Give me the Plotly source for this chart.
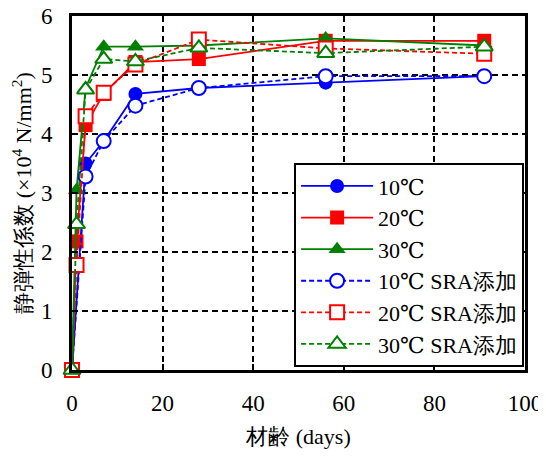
import plotly.graph_objects as go

days_all = [0, 1, 3, 7, 14, 28, 56, 91]
days_10 = [0, 3, 7, 14, 28, 56, 91]

e10 = [0, 3.5, 3.88, 4.68, 4.78, 4.87, 4.98]
e20 = [0, 2.18, 4.15, 4.68, 5.22, 5.27, 5.58, 5.58]
e30 = [0, 3.05, 4.78, 5.48, 5.48, 5.5, 5.62, 5.5]
e10s = [0, 3.28, 3.88, 4.48, 4.78, 4.98, 4.98]
e20s = [0, 1.78, 4.3, 4.7, 5.18, 5.6, 5.45, 5.36]
e30s = [0, 2.47, 4.75, 5.27, 5.23, 5.46, 5.37, 5.48]

names = ["10℃", "20℃", "30℃", "10℃ SRA添加", "20℃ SRA添加", "30℃ SRA添加"]
xs = [days_10, days_all, days_all, days_10, days_all, days_all]
ys = [e10, e20, e30, e10s, e20s, e30s]
colors = ["#0000ff", "#ff0000", "#008000", "#0000ff", "#ff0000", "#008000"]
symbols = ["circle", "square", "triangle-up", "circle-open", "square-open", "triangle-up-open"]
dashes = ["solid", "solid", "solid", "dash", "dash", "dash"]

FONT = "Times New Roman, Liberation Serif, DejaVu Serif, serif"

fig = go.Figure()
for n, x, y, c, s, d in zip(names, xs, ys, colors, symbols, dashes):
    is_open = "open" in s
    fig.add_trace(go.Scatter(
        x=x, y=y, name=n, mode="lines+markers", cliponaxis=False,
        line=dict(color=c, width=1.8, dash="5px,3px" if d == "dash" else "solid"),
        marker=dict(symbol=s.replace("-open", ""), size=14 if "triangle" not in s else 15,
                    color="white" if is_open else c,
                    line=dict(color=c, width=2 if is_open else 0)),
    ))

axis_common = dict(
    showline=True, linecolor="black", linewidth=3, mirror=True,
    ticks="inside", ticklen=6, tickwidth=2, tickcolor="black",
    showgrid=True, gridcolor="black", gridwidth=2, griddash="6px,4px",
    zeroline=False, automargin=False, ticklabeloverflow="allow",
    tickfont=dict(family=FONT, size=23, color="black"),
)

fig.update_layout(
    width=546, height=457,
    margin=dict(l=64, r=29, t=8, b=95),
    paper_bgcolor="white", plot_bgcolor="white",
    font=dict(family=FONT, color="black"),
    xaxis=dict(range=[0, 100], dtick=20, ticklabelstandoff=10, **axis_common,
               title=dict(text="材齢 (days)", font=dict(family=FONT, size=22))),
    yaxis=dict(range=[0, 6], dtick=1, ticklabelstandoff=12, **axis_common,
               title=dict(text="静弾性係数 (×10<sup>4</sup> N/mm<sup>2</sup>)",
                          font=dict(family=FONT, size=22))),
    legend=dict(x=0.998, y=0.008, xanchor="right", yanchor="bottom",
                bgcolor="white", bordercolor="black", borderwidth=2,
                font=dict(family=FONT, size=22, color="black"),
                itemwidth=72, tracegroupgap=0),
    showlegend=True,
)

fig.write_html("out.html")
